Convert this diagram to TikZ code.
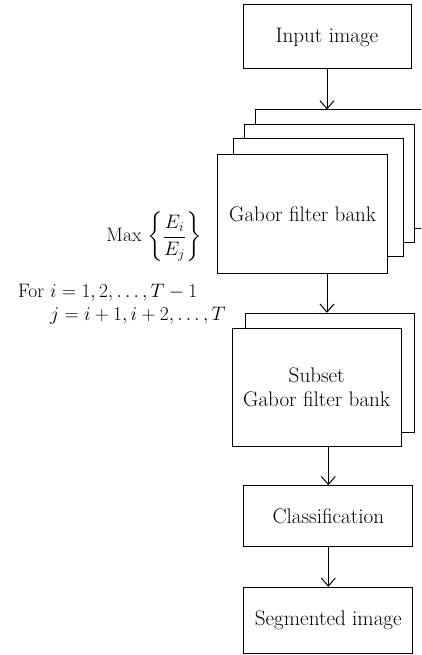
\RequirePackage{fix-cm}
\documentclass[tikz,border=0pt]{standalone}
\usepackage{amsmath}
\usepackage{fontspec}
\usetikzlibrary{arrows.meta}
\begin{document}
\begin{tikzpicture}[x=1pt,y=1pt,
  box/.style={draw=black, line width=1pt, fill=white, inner sep=0pt,
    align=center, font=\fontsize{21.1}{24}\selectfont},
  sheet/.style={box, minimum width=170, minimum height=118},
  arr/.style={line width=1pt, -{Straight Barb[length=8pt,width=14pt]}},
  lbl/.style={inner sep=0pt, font=\fontsize{19.5}{23.5}\selectfont}]
\clip (0,0) rectangle (421,-655);

% input
\node[box, minimum width=168, minimum height=64] (inp) at (327,-37) {Input image};

% stacked Gabor filter bank
\node[sheet] (g4) at (340.7,-169) {};
\node[sheet] (g3) at (329,-183.5) {};
\node[sheet] (g2) at (318.2,-197.5) {};
\node[sheet] (g1) at (302.7,-214) {Gabor filter bank};

% stacked subset bank
\node[box, minimum width=169, minimum height=119] (s2) at (330.3,-372.8) {};
\node[box, minimum width=169, minimum height=118] (s1) at (316.7,-387.2) {Subset\\Gabor filter bank};

% classification and output
\node[box, minimum width=169, minimum height=61] (cls) at (328.3,-516.2) {Classification};
\node[box, minimum width=169, minimum height=66] (seg) at (328.3,-620.3) {Segmented image};

% selection criterion
\node[lbl, anchor=east] (crit) at (202,-237)
  {Max $\left\{\dfrac{E_i}{E_j}\right\}$};
\node[lbl, anchor=base west] (rng) at (18,-297)
  {\begin{tabular}[t]{@{}r@{\ }l@{}}
   For & $i = 1, 2, \ldots, T-1$\\
       & $j = i+1, i+2, \ldots, T$
   \end{tabular}};

% flow
\draw[arr] (inp.south) -- (inp.south |- g4.north);
\draw[arr] (inp.south |- g1.south) -- (inp.south |- s2.north);
\draw[arr] (cls.north |- s1.south) -- (cls.north);
\draw[arr] (cls.south) -- (seg.north);
\end{tikzpicture}
\end{document}
